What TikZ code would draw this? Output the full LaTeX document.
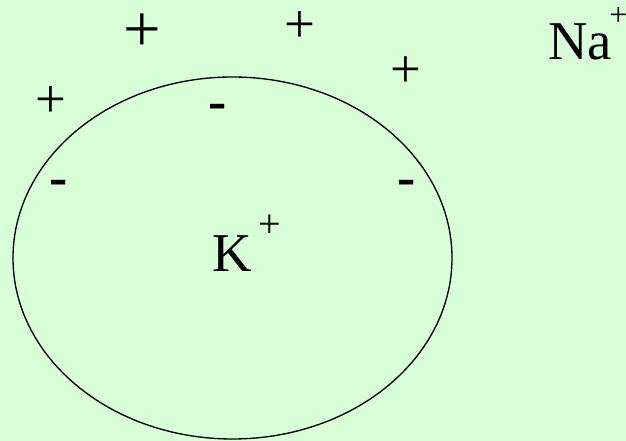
\documentclass[tikz,border=0pt]{standalone}
\usepackage{fontspec}
\setmainfont{Liberation Serif}
\usetikzlibrary{shapes.geometric}
\definecolor{bgreen}{RGB}{217,255,217}

\begin{document}
\begin{tikzpicture}[x=0.75pt, y=-0.75pt,
    pls/.style={inner sep=0pt, font=\fontsize{41}{41}\selectfont},
    mns/.style={inner sep=0pt, anchor=base, font=\fontsize{41}{41}\selectfont\bfseries},
    ion/.style={inner sep=0pt, anchor=base west, font=\fontsize{41}{41}\selectfont}
]
\fill[bgreen] (0,0) rectangle (626,441);
\useasboundingbox (0,0) rectangle (626,441);

\node[draw, ellipse, line width=1pt, minimum width=329.25pt, minimum height=271.5pt] (cell) at (232.5,258) {};

\node[pls, font=\fontsize{50}{50}\selectfont] (p1) at (142,33) {+};
\node[pls] (p2) at (300,27) {+};
\node[pls] (p3) at (406,72) {+};
\node[pls] (p4) at (51,102) {+};

\node[mns] (m1) at (218,120) {-};
\node[mns] (m2) at (59,196) {-};
\node[mns] (m3) at (407,196) {-};

\node[ion] (k) at (212.5,272) {K\hspace{4.5pt}\raisebox{26pt}{\fontsize{30}{30}\selectfont+}};
\node[ion] (na) at (548,60) {Na\hspace{-2pt}\raisebox{26pt}{\fontsize{24}{24}\selectfont+}};
\end{tikzpicture}
\end{document}
